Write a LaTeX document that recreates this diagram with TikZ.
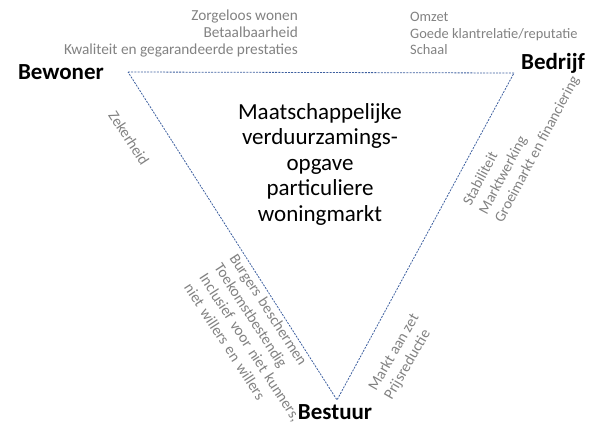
\documentclass[tikz,border=0pt]{standalone}
\usepackage{fontspec}
\setmainfont{Carlito}
\usepackage{tikz}
\usepackage{xcolor}
\definecolor{lijn}{RGB}{62,96,160}
\definecolor{grijs}{RGB}{130,130,130}

\begin{document}
\begin{tikzpicture}[x=1pt,y=-1pt,
    hoek/.style={font=\fontsize{23}{26}\selectfont\bfseries,inner sep=0pt},
    eis/.style={text=grijs,font=\fontsize{15.3}{17}\selectfont,inner sep=0pt}]
    \useasboundingbox (0,0) rectangle (595,424);
    \coordinate (bw) at (128,72);
    \coordinate (bd) at (514,73);
    \coordinate (bs) at (337,400);
    \draw[lijn,line width=0.8pt,dash pattern=on 2pt off 1.2pt](bw)--(bd)--(bs)--cycle;
    \node[hoek,anchor=east](bewoner) at (104,72){Bewoner};
    \node[hoek](bedrijf) at (553,63){Bedrijf};
    \node[hoek,anchor=base](bestuur) at (335,419.5){Bestuur};
    \node[font=\fontsize{23}{25.5}\selectfont,align=center](opgave) at (320,164)
    {Maatschappelijke\\verduurzamings-\\opgave\\particuliere\\woningmarkt};
    % wat de partijen willen
    \node[eis,anchor=north east,align=right](wensbw) at (298,10)
    {Zorgeloos wonen\\Betaalbaarheid\\Kwaliteit en gegarandeerde prestaties};
    \node[eis,anchor=north west,align=left,font=\fontsize{14.4}{16.5}\selectfont](wensbd) at (410,12)
    {Omzet\\Goede klantrelatie/reputatie\\Schaal};
    \node[eis,rotate=-57](zeker) at (129,138){Zekerheid};
    \node[eis,rotate=-57,anchor=north west,align=left,text width=190pt,
      font=\fontsize{15.3}{18}\selectfont](wensbs) at (238,252)
    {Burgers beschermen\\Toekomstbestendig\\Inclusief voor niet kunners,\\niet willers en willers};
    \node[eis,rotate=62,anchor=south west,align=left,font=\fontsize{15}{18}\selectfont](wensmarkt) at (505,225)
    {Stabiliteit\\Marktwerking\\Groeimarkt en financiering};
    \node[eis,rotate=60,align=left,font=\fontsize{15.3}{18}\selectfont](prijs) at (402,357)
    {Markt aan zet\\Prijsreductie};
\end{tikzpicture}
\end{document}
